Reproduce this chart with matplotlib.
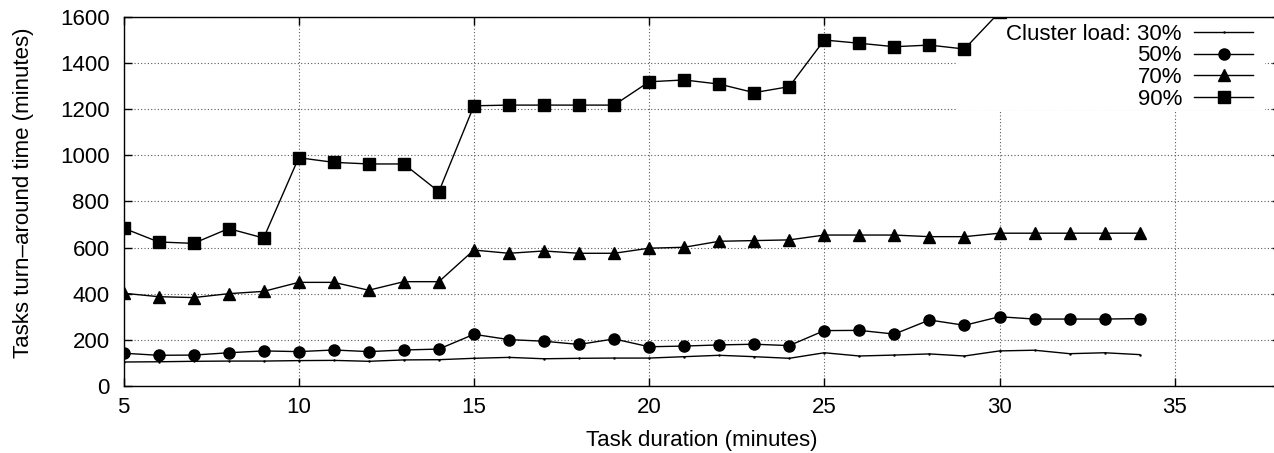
import matplotlib
matplotlib.use("Agg")
import matplotlib.pyplot as plt
from matplotlib.patches import Rectangle

# ---- data ----
task_duration = list(range(5, 35))
load30 = [104, 105, 107, 108, 108, 110, 111, 107, 113, 114, 120, 124, 118, 120, 121,
          121, 127, 133, 127, 120, 144, 130, 134, 139, 130, 152, 155, 140, 144, 136]
load50 = [142, 133, 134, 144, 152, 149, 156, 149, 156, 160, 224, 201, 194, 180, 204,
          170, 173, 178, 181, 175, 240, 241, 225, 286, 263, 300, 290, 290, 290, 292]
load70 = [402, 387, 383, 400, 410, 449, 449, 415, 452, 452, 589, 575, 585, 575, 575,
          597, 601, 627, 630, 633, 654, 654, 654, 647, 647, 662, 662, 662, 662, 662]
load90 = [684, 624, 618, 682, 641, 989, 969, 962, 962, 842, 1214, 1217, 1217, 1217, 1217,
          1318, 1326, 1308, 1271, 1297, 1499, 1485, 1470, 1477, 1460, 1620, 1660, 1690, 1720, 1750]
labels = ["Cluster load: 30%", "50%", "70%", "90%"]
x_ticks = [5, 10, 15, 20, 25, 30, 35]
y_ticks = [0, 200, 400, 600, 800, 1000, 1200, 1400, 1600]

plt.rcParams['font.family'] = ['Liberation Sans', 'DejaVu Sans']
FS = 16

fig = plt.figure(figsize=(12.74, 4.53), dpi=100)
W, H = 1274, 453
left_px, bottom_px, top_px = 123.5, 386, 16.7
px_per_unit = 35.04
width_px = 33 * px_per_unit
ax = fig.add_axes([left_px / W, (H - bottom_px) / H, width_px / W, (bottom_px - top_px) / H])

ax.set_xlim(5, 38)
ax.set_ylim(0, 1600)
ax.set_xticks(x_ticks)
ax.set_yticks(y_ticks)
ax.tick_params(axis='both', direction='in', length=6, width=1, labelsize=FS,
               top=True, right=True)
ax.tick_params(axis='x', pad=8)
ax.tick_params(axis='y', pad=10)

ax.set_axisbelow(True)
ax.grid(True, color='0.35', linestyle=(0, (1, 2)), linewidth=0.8)
for s in ax.spines.values():
    s.set_linewidth(1.0)

# opaque key area
ax.add_patch(Rectangle((0.7208, 0.7474), 0.2664, 0.2526, transform=ax.transAxes,
                       facecolor='white', edgecolor='none', zorder=1))

lw = 1.0
ax.plot(task_duration, load30, color='black', lw=lw, marker='.', markersize=1.5,
        label=labels[0], zorder=3)
ax.plot(task_duration, load50, color='black', lw=lw, marker='o', markersize=8,
        label=labels[1], zorder=3)
ax.plot(task_duration, load70, color='black', lw=lw, marker='^', markersize=8,
        label=labels[2], zorder=3)
ax.plot(task_duration, load90, color='black', lw=lw, marker='s', markersize=8,
        label=labels[3], zorder=3)

leg = ax.legend(loc='upper right', bbox_to_anchor=(0.9768, 0.981),
                frameon=False, markerfirst=False, fontsize=FS,
                borderpad=0, borderaxespad=0, labelspacing=0.03,
                handlelength=2.65, handletextpad=0.55)

ax.set_xlabel("Task duration (minutes)", fontsize=FS)
ax.set_ylabel("Tasks turn\u2013around time (minutes)", fontsize=FS)
ax.xaxis.set_label_coords(0.5, -0.12)
ax.yaxis.set_label_coords(-0.077, 0.524)

fig.savefig("out.png", dpi=100)
